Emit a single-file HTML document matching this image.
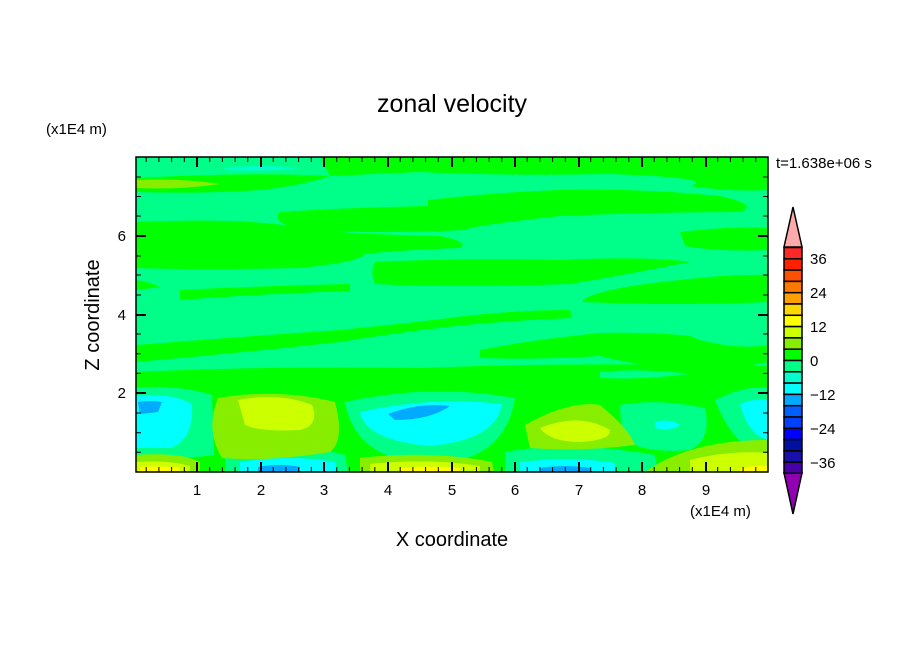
<!DOCTYPE html>
<html><head><meta charset="utf-8"><style>
html,body{margin:0;padding:0;background:#fff;}
svg{display:block;font-family:"Liberation Sans",sans-serif;}
</style></head><body>
<svg width="904" height="654" viewBox="0 0 904 654" xmlns="http://www.w3.org/2000/svg">
<defs><clipPath id="c"><rect x="136" y="157" width="632" height="315"/></clipPath></defs>
<g clip-path="url(#c)">
<rect x="136" y="157" width="632" height="315" fill="#00ff88"/>
<path d="M225 168 Q260 164 300 168 Q260 172 225 170Z" fill="#00ffcc"/>
<g fill="#00ff00">
<path d="M320 157 L768 157 L768 190 Q730 192 690 186 Q720 178 610 174 Q500 176 420 172 Q370 174 330 176 Z"/>
<path d="M136 178 Q250 172 330 176 Q300 186 260 190 Q200 194 136 192Z"/>
<path d="M428 200 Q500 192 560 190 Q640 188 720 196 Q760 205 740 212 Q650 212 560 216 Q470 226 465 230 Q380 234 300 230 Q270 222 280 212 Q340 208 428 206Z"/>
<path d="M136 222 Q240 218 290 226 Q330 234 440 236 Q470 242 460 248 Q400 250 365 254 Q360 262 300 268 Q200 270 136 268Z"/>
<path d="M375 262 Q450 258 560 260 Q650 256 690 262 Q640 272 570 284 Q450 288 375 284 Q370 272 375 262Z"/>
<path d="M680 232 Q730 226 768 228 L768 250 Q720 252 685 246Z"/>
<path d="M583 300 Q600 288 680 280 Q730 274 768 275 L768 302 Q680 306 583 302Z"/>
<path d="M180 290 Q260 286 350 284 L350 291 Q260 294 180 300Z"/>
<path d="M136 280 Q150 282 160 287 L136 290Z"/>
<path d="M136 345 Q250 336 340 330 Q420 322 465 316 Q520 310 570 310 L572 318 Q520 320 465 325 Q400 332 340 342 Q250 352 136 362Z"/>
<path d="M480 350 Q530 340 600 333 Q650 332 690 336 L700 340 Q740 350 768 345 L768 362 Q720 372 690 372 Q640 366 600 356 Q540 360 480 358Z"/>
<path d="M136 372 Q260 366 420 368 Q560 362 768 366 L768 472 L136 472Z"/>
</g>
<g fill="#00ff88">
<path d="M600 372 Q640 368 690 374 Q640 380 600 378Z"/>
<path d="M136 388 Q175 384 212 395 L214 455 Q175 460 136 458Z"/>
<path d="M345 402 Q430 383 515 398 Q505 462 430 464 Q355 460 345 402Z"/>
<path d="M620 405 Q660 398 705 408 Q712 440 690 450 Q650 454 622 440Z"/>
<path d="M715 400 Q745 385 768 388 L768 452 Q735 452 715 400Z"/>
<path d="M225 452 Q290 440 345 455 L348 472 L225 472Z"/>
<path d="M505 452 Q570 440 655 455 L658 472 L505 472Z"/>
</g>
<g fill="#00ffff">
<path d="M136 396 Q170 392 192 404 Q194 440 170 448 L136 448Z"/>
<path d="M360 412 Q430 396 502 404 Q496 440 430 446 Q365 440 360 412Z"/>
<path d="M740 404 Q755 398 768 400 L768 440 Q748 435 740 404Z"/>
<path d="M655 422 Q670 418 680 425 Q670 432 655 428Z"/>
<path d="M240 462 Q290 454 335 462 L337 472 L240 472Z"/>
<path d="M520 462 Q575 456 615 463 L615 472 L520 472Z"/>
</g>
<g fill="#00aaff">
<path d="M138 402 Q150 400 162 402 L158 412 L140 414Z"/>
<path d="M388 414 Q420 402 450 406 Q430 420 395 420Z"/>
<path d="M258 467 Q280 463 300 467 L300 472 L258 472Z"/>
<path d="M540 468 Q565 464 590 468 L590 472 L540 472Z"/>
</g>
<g fill="#88ee00">
<path d="M218 398 Q280 388 335 402 Q345 440 330 452 Q270 462 222 458 Q205 430 218 398Z"/>
<path d="M525 425 Q570 400 600 405 Q630 430 635 445 Q580 452 530 448Z"/>
<path d="M136 455 Q180 452 200 462 L200 472 L136 472Z"/>
<path d="M360 458 Q430 450 492 462 L494 472 L360 472Z"/>
<path d="M645 472 Q690 440 768 440 L768 472Z"/>
<path d="M136 180 Q180 178 220 184 Q180 190 136 188Z"/>
</g>
<g fill="#ccff00">
<path d="M238 400 Q280 392 312 405 Q320 425 300 430 Q260 432 245 425Z"/>
<path d="M540 428 Q580 412 610 430 Q612 440 580 442 Q550 442 540 428Z"/>
<path d="M136 462 Q170 460 190 466 L190 472 L136 472Z"/>
<path d="M370 464 Q430 458 480 466 L480 472 L370 472Z"/>
<path d="M690 460 Q730 450 768 453 L768 472 L690 472Z"/>
</g>
<g fill="#ffff00">
<path d="M140 467 Q160 465 180 468 L180 472 L140 472Z"/>
<path d="M400 468 Q430 465 460 468 L460 472 L400 472Z"/>
<path d="M740 468 Q755 465 768 466 L768 472 L740 472Z"/>
</g>
</g>
<rect x="136" y="157" width="632" height="315" fill="none" stroke="#000" stroke-width="1.5"/>
<g stroke="#000" stroke-width="1">
<path id="mx" d="M146.2 472v-5M158.9 472v-5M171.6 472v-5M184.3 472v-5M209.7 472v-5M222.4 472v-5M235.1 472v-5M247.8 472v-5M273.2 472v-5M285.9 472v-5M298.6 472v-5M311.3 472v-5M336.7 472v-5M349.4 472v-5M362.1 472v-5M374.8 472v-5M400.2 472v-5M412.9 472v-5M425.6 472v-5M438.3 472v-5M463.7 472v-5M476.4 472v-5M489.1 472v-5M501.8 472v-5M527.2 472v-5M539.9 472v-5M552.6 472v-5M565.3 472v-5M590.7 472v-5M603.4 472v-5M616.1 472v-5M628.8 472v-5M654.2 472v-5M666.9 472v-5M679.6 472v-5M692.3 472v-5M717.7 472v-5M730.4 472v-5M743.1 472v-5M755.8 472v-5"/>
<use href="#mx" transform="translate(0 629) scale(1 -1)"/>
<path d="M136 452.3h5M136 432.7h5M136 413h5M136 373.4h5M136 353.7h5M136 334h5M136 295h5M136 275h5M136 256h5M136 216h5M136 196.5h5M136 177h5M768 452.3h-5M768 432.7h-5M768 413h-5M768 373.4h-5M768 353.7h-5M768 334h-5M768 295h-5M768 275h-5M768 256h-5M768 216h-5M768 196.5h-5M768 177h-5"/>
<path d="M197 472v-10M261 472v-10M324 472v-10M388 472v-10M452 472v-10M515 472v-10M579 472v-10M642 472v-10M706 472v-10M197 157v10M261 157v10M324 157v10M388 157v10M452 157v10M515 157v10M579 157v10M642 157v10M706 157v10M136 393h10M136 315h10M136 236h10M768 393h-10M768 315h-10M768 236h-10" stroke-width="2"/>
</g>
<g font-size="15" fill="#000">
<text x="197" y="495" text-anchor="middle">1</text><text x="261" y="495" text-anchor="middle">2</text><text x="324" y="495" text-anchor="middle">3</text><text x="388" y="495" text-anchor="middle">4</text><text x="452" y="495" text-anchor="middle">5</text><text x="515" y="495" text-anchor="middle">6</text><text x="579" y="495" text-anchor="middle">7</text><text x="642" y="495" text-anchor="middle">8</text><text x="706" y="495" text-anchor="middle">9</text>
<text x="126" y="398" text-anchor="end">2</text><text x="126" y="320" text-anchor="end">4</text><text x="126" y="241" text-anchor="end">6</text>
<text x="690" y="516">(x1E4 m)</text>
<text x="46" y="134">(x1E4 m)</text>
<text x="776" y="168">t=1.638e+06 s</text>
</g>
<text x="452" y="112" font-size="25" text-anchor="middle">zonal velocity</text>
<text x="452" y="546" font-size="20" text-anchor="middle">X coordinate</text>
<text transform="translate(99 315) rotate(-90)" font-size="20" text-anchor="middle">Z coordinate</text>
<g stroke="#000" stroke-width="1.5">
<path d="M793 207 L802 247 L784 247Z" fill="#ffaaaa"/>
<path d="M784 473 L802 473 L793 514Z" fill="#9000b0"/>
<rect x="784" y="247.5" width="18" height="11.3" fill="#ff2828"/>
<rect x="784" y="258.8" width="18" height="11.3" fill="#ff2000"/>
<rect x="784" y="270.1" width="18" height="11.3" fill="#ff5000"/>
<rect x="784" y="281.4" width="18" height="11.3" fill="#ff7800"/>
<rect x="784" y="292.7" width="18" height="11.3" fill="#ffa000"/>
<rect x="784" y="304" width="18" height="11.3" fill="#ffd700"/>
<rect x="784" y="315.3" width="18" height="11.3" fill="#ffff00"/>
<rect x="784" y="326.6" width="18" height="11.3" fill="#ccff00"/>
<rect x="784" y="337.9" width="18" height="11.3" fill="#88ee00"/>
<rect x="784" y="349.2" width="18" height="11.3" fill="#00ff00"/>
<rect x="784" y="360.5" width="18" height="11.3" fill="#00ff88"/>
<rect x="784" y="371.8" width="18" height="11.3" fill="#00ffcc"/>
<rect x="784" y="383.1" width="18" height="11.3" fill="#00ffff"/>
<rect x="784" y="394.4" width="18" height="11.3" fill="#00aaff"/>
<rect x="784" y="405.7" width="18" height="11.3" fill="#0060ff"/>
<rect x="784" y="417" width="18" height="11.3" fill="#0040ff"/>
<rect x="784" y="428.3" width="18" height="11.3" fill="#0000ff"/>
<rect x="784" y="439.6" width="18" height="11.3" fill="#0010a0"/>
<rect x="784" y="450.9" width="18" height="11.3" fill="#1810a8"/>
<rect x="784" y="462.2" width="18" height="11" fill="#4800a8"/>
</g>
<g font-size="15" fill="#000">
<text x="810" y="264">36</text><text x="810" y="298">24</text><text x="810" y="332">12</text><text x="810" y="366">0</text><text x="810" y="400">−12</text><text x="810" y="434">−24</text><text x="810" y="468">−36</text>
</g>
</svg>
</body></html>
